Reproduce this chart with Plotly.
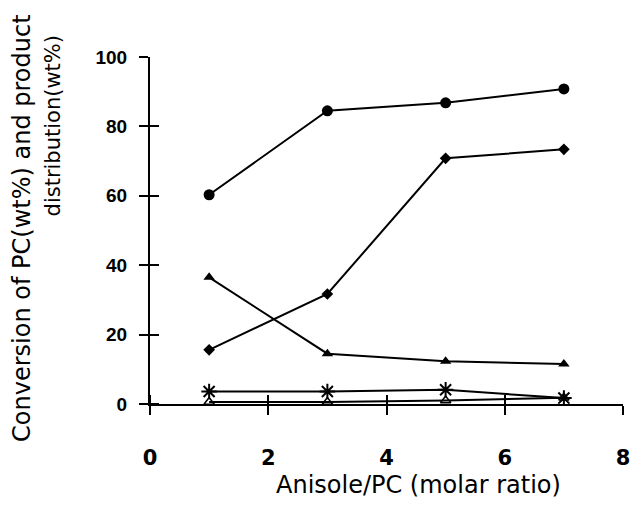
import plotly.graph_objects as go

ratio = [1, 3, 5, 7]
conversion = [60.3, 84.5, 86.8, 90.8]
product_a = [15.6, 31.7, 70.8, 73.4]
product_b = [36.5, 14.5, 12.3, 11.5]
product_c = [3.6, 3.6, 4.1, 1.7]
product_d = [0.6, 0.6, 1.0, 1.8]

x_ticks = [0, 2, 4, 6, 8]
y_ticks = [0, 20, 40, 60, 80, 100]

fig = go.Figure()

def add(y, symbol, size, lw=0):
    fig.add_trace(go.Scatter(
        x=ratio, y=y, mode="lines+markers",
        line=dict(color="black", width=2),
        marker=dict(symbol=symbol, size=size, color="black",
                    line=dict(color="black", width=lw)),
        showlegend=False, cliponaxis=False))

add(product_d, "triangle-up-open", 9, 1.5)
add(conversion, "circle", 11)
add(product_a, "diamond", 9)
add(product_b, "triangle-up", 10)
add(product_c, "asterisk-open", 13, 2)

tickfont_x = dict(family="DejaVu Sans", size=21, color="black", weight="bold")
tickfont_y = dict(family="Liberation Sans, Arial", size=19, color="black", weight="bold")

# page body has an 8px margin, so the figure is shrunk by 8px
fig.update_layout(
    width=633, height=508, autosize=False,
    margin=dict(l=142, r=11, t=49, b=112),
    paper_bgcolor="white", plot_bgcolor="white",
    xaxis=dict(range=[0, 8], tickvals=x_ticks, ticks="outside", ticklen=9,
               tickwidth=2, tickcolor="black", showline=True, linecolor="black",
               linewidth=2, showgrid=False, zeroline=False, tickfont=tickfont_x,
               ticklabelstandoff=25,
               minor=dict(tickmode="array", tickvals=[v + 0.002 for v in x_ticks],
                          ticks="inside", ticklen=9, tickwidth=2, tickcolor="black",
                          showgrid=False)),
    yaxis=dict(range=[0, 100], tickvals=y_ticks, ticks="outside", ticklen=9,
               tickwidth=2, tickcolor="black", showline=True, linecolor="black",
               linewidth=2, showgrid=False, zeroline=False, tickfont=tickfont_y,
               ticklabelstandoff=8,
               minor=dict(tickmode="array", tickvals=[v + 0.02 for v in y_ticks],
                          ticks="inside", ticklen=9, tickwidth=2, tickcolor="black",
                          showgrid=False)),
)

title_font = dict(family="DejaVu Sans", size=24, color="black")
fig.add_annotation(text="Anisole/PC (molar ratio)", xref="paper", yref="paper",
                   x=0.567, y=-0.233, showarrow=False, font=title_font,
                   xanchor="center", yanchor="middle")
fig.add_annotation(text="Conversion of PC(wt%) and product", xref="paper", yref="paper",
                   x=-0.271, y=0.507, showarrow=False, font=title_font, textangle=-90,
                   xanchor="center", yanchor="middle")
fig.add_annotation(text="distribution(wt%)", xref="paper", yref="paper",
                   x=-0.205, y=0.80, showarrow=False,
                   font=dict(family="DejaVu Sans", size=21, color="black"), textangle=-90,
                   xanchor="center", yanchor="middle")

fig.write_html("out.html")
